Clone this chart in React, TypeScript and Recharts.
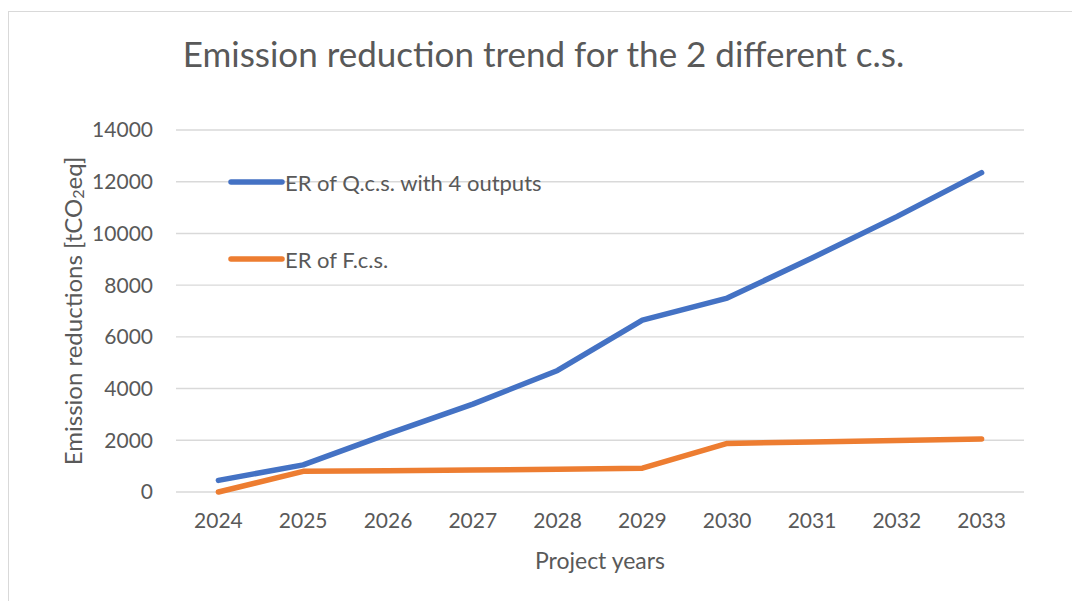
import { CartesianGrid, Legend, Line, LineChart, XAxis, YAxis } from "recharts";

const years = ["2024", "2025", "2026", "2027", "2028", "2029", "2030", "2031", "2032", "2033"];
const qcsReductions = [450, 1050, 2250, 3400, 4700, 6650, 7500, 9050, 10650, 12350];
const fcsReductions = [0, 800, 820, 850, 880, 920, 1880, 1930, 1990, 2050];
const seriesNames = ["ER of Q.c.s. with 4 outputs", "ER of F.c.s."];
const yTicks = [0, 2000, 4000, 6000, 8000, 10000, 12000, 14000];

const data = years.map((year, i) => ({
  year,
  qcs: qcsReductions[i],
  fcs: fcsReductions[i],
}));

const FONT = "Lato, 'Open Sans', sans-serif";
const TEXT = "#595959";

function LegendBox({ payload }: { payload?: any[] }) {
  // keep the series order, not alphabetical
  const items = [...(payload ?? [])].sort(
    (a, b) => seriesNames.indexOf(a.value) - seriesNames.indexOf(b.value),
  );
  return (
    <div style={{ fontFamily: FONT }}>
      {items.map((entry) => (
        <div
          key={entry.value}
          style={{ display: "flex", alignItems: "center", height: 24, marginBottom: 53 }}
        >
          <svg width={57} height={8} style={{ display: "block" }}>
            <line
              x1={3}
              y1={4}
              x2={54}
              y2={4}
              stroke={entry.color}
              strokeWidth={5.5}
              strokeLinecap="round"
            />
          </svg>
          <span style={{ color: TEXT, fontSize: 22, whiteSpace: "nowrap" }}>{entry.value}</span>
        </div>
      ))}
    </div>
  );
}

function YTitle(props: any) {
  const vb = props.viewBox ?? { x: 0, y: 0, height: 0 };
  const cx = 72;
  const cy = vb.y + vb.height / 2;
  return (
    <text
      x={cx}
      y={cy}
      transform={`rotate(-90, ${cx}, ${cy})`}
      textAnchor="middle"
      dominantBaseline="central"
      fill={TEXT}
      fontSize={24}
      fontFamily={FONT}
    >
      Emission reductions [tCO
      <tspan dy={5} fontSize={16}>
        2
      </tspan>
      <tspan dy={-5}>eq]</tspan>
    </text>
  );
}

function XTitle(props: any) {
  const vb = props.viewBox ?? { x: 0, y: 0, width: 0 };
  return (
    <text
      x={vb.x + vb.width / 2}
      y={vb.y + 76.5}
      textAnchor="middle"
      fill={TEXT}
      fontSize={23}
      fontFamily={FONT}
    >
      Project years
    </text>
  );
}

export default function App() {
  return (
    <div
      style={{
        position: "fixed",
        left: 0,
        top: 0,
        width: 1072,
        height: 601,
        overflow: "hidden",
        background: "#fff",
        fontFamily: FONT,
      }}
    >
      <div
        style={{
          position: "absolute",
          left: 8,
          top: 11,
          width: 1200,
          height: 800,
          border: "1.5px solid #d9d9d9",
        }}
      />
      <svg
        width={1072}
        height={100}
        style={{ position: "absolute", left: 0, top: 0, pointerEvents: "none" }}
      >
        <text x={543.5} y={67} textAnchor="middle" fill={TEXT} fontSize={35} fontFamily={FONT}>
          Emission reduction trend for the 2 different c.s.
        </text>
      </svg>
      <div style={{ position: "absolute", left: 0, top: 0 }}>
        <LineChart
          width={1072}
          height={601}
          data={data}
          margin={{ top: 130, right: 48, left: 0, bottom: 0 }}
        >
          <CartesianGrid stroke="#d9d9d9" strokeWidth={1.4} vertical={false} />
          <XAxis
            dataKey="year"
            height={109}
            padding={{ left: 42.4, right: 42.4 }}
            axisLine={false}
            tickLine={false}
            tickMargin={15}
            tick={{ fill: TEXT, fontSize: 21, fontFamily: FONT }}
            label={XTitle}
          />
          <YAxis
            width={176}
            domain={[0, 14000]}
            ticks={yTicks}
            axisLine={false}
            tickLine={false}
            tickMargin={17}
            tick={{ fill: TEXT, fontSize: 21, fontFamily: FONT }}
            label={YTitle}
          />
          <Legend
            layout="vertical"
            align="center"
            verticalAlign="middle"
            content={LegendBox as any}
            wrapperStyle={{ left: 228, top: 170, width: 400 }}
          />
          <Line
            type="linear"
            dataKey="qcs"
            name={seriesNames[0]}
            stroke="#4472c4"
            strokeWidth={5.5}
            strokeLinecap="round"
            strokeLinejoin="round"
            dot={false}
            activeDot={false}
            isAnimationActive={false}
          />
          <Line
            type="linear"
            dataKey="fcs"
            name={seriesNames[1]}
            stroke="#ed7d31"
            strokeWidth={5.5}
            strokeLinecap="round"
            strokeLinejoin="round"
            dot={false}
            activeDot={false}
            isAnimationActive={false}
          />
        </LineChart>
      </div>
    </div>
  );
}
